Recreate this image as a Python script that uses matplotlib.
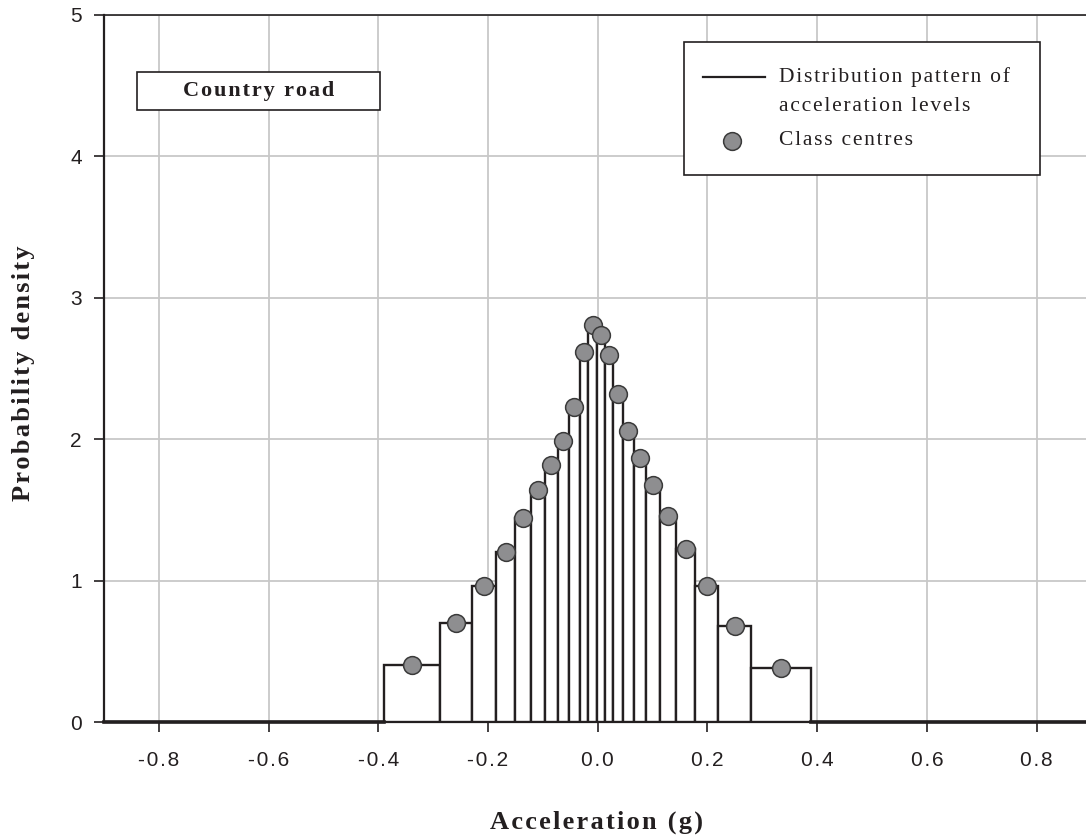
import numpy as np
import matplotlib
matplotlib.use('Agg')
import matplotlib.pyplot as plt
from matplotlib.patches import Rectangle
from matplotlib.lines import Line2D

# class edges (g) and probability density of each class
class_edges = [-0.390, -0.288, -0.229, -0.186, -0.150, -0.122, -0.096, -0.073,
               -0.052, -0.033, -0.017, -0.0015, 0.013, 0.028, 0.046, 0.066,
               0.088, 0.114, 0.142, 0.178, 0.220, 0.280, 0.389]
density = [0.40, 0.70, 0.965, 1.20, 1.44, 1.64, 1.815, 1.985, 2.225, 2.62, 2.81,
           2.74, 2.595, 2.32, 2.055, 1.865, 1.675, 1.46, 1.22, 0.96, 0.68, 0.385]

x_ticks = [-0.8, -0.6, -0.4, -0.2, 0.0, 0.2, 0.4, 0.6, 0.8]
x_tick_labels = ['-0.8', '-0.6', '-0.4', '-0.2', '0.0', '0.2', '0.4', '0.6', '0.8']
y_ticks = [0, 1, 2, 3, 4, 5]
y_tick_labels = ['0', '1', '2', '3', '4', '5']

ink = '#231f20'
serif = 'Liberation Serif'
sans = 'Liberation Sans'


def spaced(s, n=1):
    # the original typesetting is letter-spaced
    return ('\u200a' * n).join(s)


edges = np.array(class_edges)
widths = np.diff(edges)
centres = (edges[:-1] + edges[1:]) / 2

W, H = 1086, 838
fig = plt.figure(figsize=(W / 100, H / 100), dpi=100)
ax = fig.add_axes([104 / W, 116 / H, 982 / W, 707 / H])

ax.bar(edges[:-1], density, width=widths, align='edge', facecolor='white',
       edgecolor=ink, linewidth=1.7, zorder=3)
ax.plot([-0.9, edges[0]], [0, 0], color=ink, lw=2.6, zorder=4, clip_on=False)
ax.plot([edges[-1], 0.9], [0, 0], color=ink, lw=2.6, zorder=4, clip_on=False)
ax.plot(centres, density, 'o', ms=12.8, mfc='#8e8e90', mec='#3a3a3a', mew=1.1,
        zorder=5, clip_on=False)

ax.set_xlim(-0.9, 0.89)
ax.set_ylim(0, 5)
ax.set_xticks(x_ticks)
ax.set_xticklabels([spaced(t) for t in x_tick_labels], family=sans, fontsize=15)
ax.set_yticks(y_ticks)
ax.set_yticklabels(y_tick_labels, family=sans, fontsize=15)
ax.tick_params(axis='both', direction='out', length=7, width=1.2, colors=ink)
ax.tick_params(axis='x', pad=14)
ax.tick_params(axis='y', pad=9)
ax.grid(True, color='#c8c8c8', lw=1.3)
ax.set_axisbelow(True)

for side in ['left', 'bottom']:
    ax.spines[side].set_linewidth(1.6)
    ax.spines[side].set_color(ink)
ax.spines['top'].set_linewidth(1.2)
ax.spines['top'].set_color(ink)
ax.spines['right'].set_visible(False)

fig.text(596 / W, 1 - 829 / H, spaced('Acceleration (g)'), family=serif,
         weight='bold', fontsize=19, color=ink, ha='center', va='baseline')
fig.text(23.5 / W, 1 - 373 / H, spaced('Probability density'), family=serif,
         weight='bold', fontsize=19, color=ink, ha='center', va='center',
         rotation=90)

# "Country road" label box
ax.add_patch(Rectangle((0.0336, 0.866), 0.2475, 0.0535, transform=ax.transAxes,
                       facecolor='white', edgecolor=ink, lw=1.2, zorder=6))
ax.text(0.157, 0.8925, spaced('Country road'), transform=ax.transAxes,
        family=serif, weight='bold', fontsize=16, color=ink, ha='center',
        va='center', zorder=7)

# legend drawn by hand so the line sits on the first text row
ax.add_patch(Rectangle((0.5906, 0.7737), 0.3626, 0.1881, transform=ax.transAxes,
                       facecolor='white', edgecolor=ink, lw=1.2, zorder=6))
ax.add_line(Line2D([0.6100, 0.6731], [0.9123, 0.9123], transform=ax.transAxes,
                   color=ink, lw=1.6, zorder=7))
ax.add_line(Line2D([0.6395], [0.8218], transform=ax.transAxes, marker='o', ms=12.8,
                   mfc='#8e8e90', mec='#3a3a3a', mew=1.1, zorder=7))
leg_rows = [('Distribution pattern of', 0.9123),
            ('acceleration levels', 0.8699),
            ('Class centres', 0.8218)]
for txt, yy in leg_rows:
    ax.text(0.6874, yy, spaced(txt), transform=ax.transAxes, family=serif,
            fontsize=15.5, color=ink, ha='left', va='center', zorder=7)

fig.savefig('out.png', dpi=100)
